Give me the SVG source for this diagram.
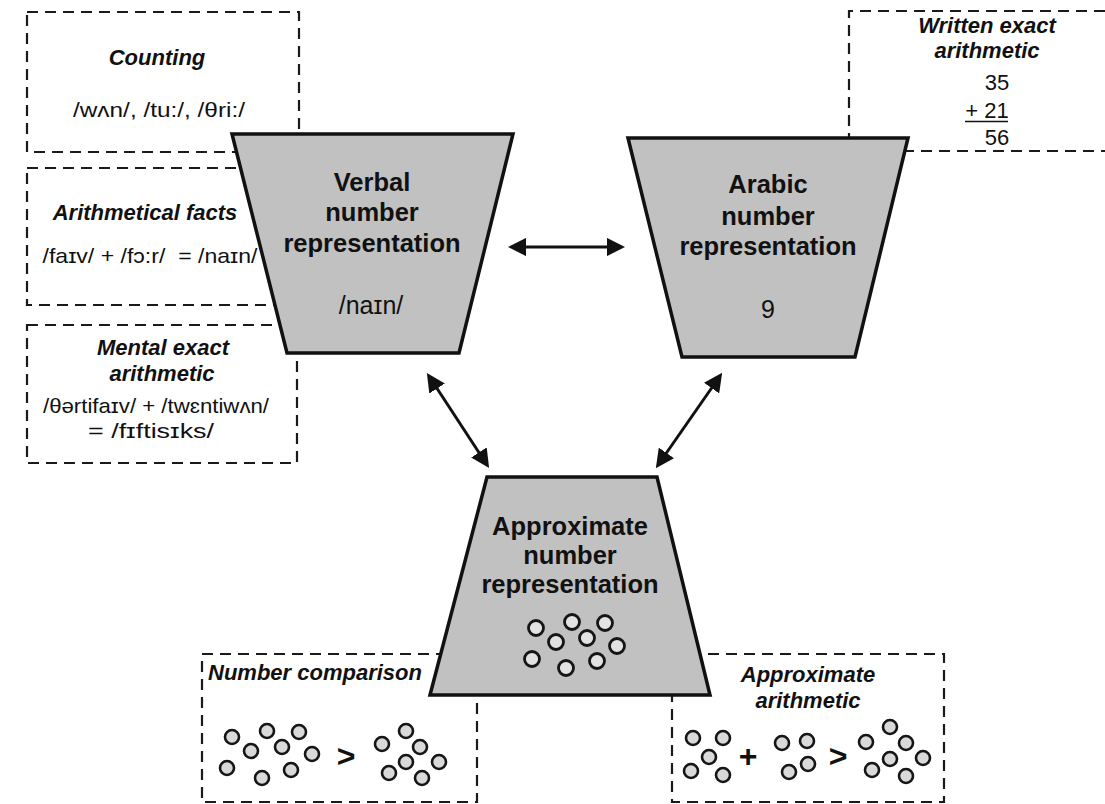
<svg xmlns="http://www.w3.org/2000/svg" width="1105" height="804" viewBox="0 0 1105 804">
<style>
.box{fill:none;stroke:#1a1a1a;stroke-width:2.2;stroke-dasharray:11 7}
.trap{fill:#c1c1c1;stroke:#111;stroke-width:3.5;stroke-linejoin:miter}
.ttl{font-family:"Liberation Sans",Arial,sans-serif;font-weight:bold;font-style:italic;font-size:22px;fill:#111;text-anchor:middle}
.txt{font-family:"Liberation Sans",Arial,sans-serif;font-size:21px;fill:#111;text-anchor:middle}
.lbl{font-family:"Liberation Sans",Arial,sans-serif;font-weight:bold;font-size:25.5px;fill:#111;text-anchor:middle}
.big{font-family:"Liberation Sans",Arial,sans-serif;font-size:25px;fill:#111;text-anchor:middle}
.sym{font-family:"Liberation Sans",Arial,sans-serif;font-weight:bold;font-size:32px;fill:#111;text-anchor:middle}
.dot{fill:#d9d9d9;stroke:#151515;stroke-width:2.6}
.dot2{fill:#e2e2e2;stroke:#151515;stroke-width:2.8}
.arr{stroke:#111;stroke-width:3;fill:none;marker-start:url(#ah);marker-end:url(#ah)}
</style>
<defs>
<marker id="ah" viewBox="0 0 10 10" refX="4" refY="5" markerWidth="6.2" markerHeight="6.2" orient="auto-start-reverse">
<path d="M0,0 L10,5 L0,10 z" fill="#111"/>
</marker>
</defs>

<g id="box-counting">
<rect class="box" x="27" y="12" width="272" height="140"/>
<text class="ttl" x="157" y="65">Counting</text>
<text class="txt" x="159" y="117" textLength="172" lengthAdjust="spacingAndGlyphs">/wʌn/, /tu:/, /θri:/</text>
</g>
<g id="box-facts">
<rect class="box" x="27" y="168" width="258" height="137"/>
<text class="ttl" x="145" y="220">Arithmetical facts</text>
<text class="txt" x="150" y="263" textLength="215" lengthAdjust="spacingAndGlyphs">/faɪv/ + /fɔ:r/ &#160;= /naɪn/</text>
</g>
<g id="box-mental">
<rect class="box" x="27" y="325" width="270" height="138"/>
<text class="ttl" x="163" y="355">Mental exact</text>
<text class="ttl" x="162" y="381">arithmetic</text>
<text class="txt" x="156" y="413" textLength="226" lengthAdjust="spacingAndGlyphs">/θərtifaɪv/ + /twɛntiwʌn/</text>
<text class="txt" x="151" y="438" textLength="126" lengthAdjust="spacingAndGlyphs">= /fɪftisɪks/</text>
</g>
<g id="box-written">
<path class="box" d="M1105,11 H849 V151 H1105"/>
<text class="ttl" x="987" y="33">Written exact</text>
<text class="ttl" x="987" y="58">arithmetic</text>
<text class="txt" x="997" y="90" style="font-size:22px">35</text>
<text class="txt" x="987" y="118" style="font-size:22px">+ 21</text>
<line x1="965" y1="121.5" x2="1008" y2="121.5" stroke="#111" stroke-width="1.6"/>
<text class="txt" x="997" y="145" style="font-size:22px">56</text>
</g>
<g id="box-comparison">
<rect class="box" x="202" y="654" width="275" height="148"/>
<text class="ttl" x="208" y="680" style="text-anchor:start">Number comparison</text>
<circle class="dot" cx="232" cy="737" r="7"/>
<circle class="dot" cx="251" cy="751" r="7"/>
<circle class="dot" cx="267" cy="731" r="7"/>
<circle class="dot" cx="282" cy="747" r="7"/>
<circle class="dot" cx="299" cy="732" r="7"/>
<circle class="dot" cx="312" cy="754" r="7"/>
<circle class="dot" cx="227" cy="768" r="7"/>
<circle class="dot" cx="262" cy="778" r="7"/>
<circle class="dot" cx="291" cy="770" r="7"/>
<text class="sym" x="346" y="767">&gt;</text>
<circle class="dot" cx="382" cy="744" r="7"/>
<circle class="dot" cx="406" cy="731" r="7"/>
<circle class="dot" cx="420" cy="747" r="7"/>
<circle class="dot" cx="406" cy="762" r="7"/>
<circle class="dot" cx="439" cy="762" r="7"/>
<circle class="dot" cx="389" cy="773" r="7"/>
<circle class="dot" cx="422" cy="778" r="7"/>
</g>
<g id="box-approx-arith">
<rect class="box" x="672" y="654" width="272" height="148"/>
<text class="ttl" x="808" y="682">Approximate</text>
<text class="ttl" x="808" y="708">arithmetic</text>
<circle class="dot" cx="693" cy="738" r="7"/>
<circle class="dot" cx="723" cy="738" r="7"/>
<circle class="dot" cx="709" cy="757" r="7"/>
<circle class="dot" cx="691" cy="771" r="7"/>
<circle class="dot" cx="723" cy="775" r="7"/>
<text class="sym" x="748" y="767">+</text>
<circle class="dot" cx="782" cy="743" r="7"/>
<circle class="dot" cx="807" cy="741" r="7"/>
<circle class="dot" cx="808" cy="764" r="7"/>
<circle class="dot" cx="789" cy="772" r="7"/>
<text class="sym" x="838" y="767">&gt;</text>
<circle class="dot" cx="866" cy="742" r="7"/>
<circle class="dot" cx="890" cy="727" r="7"/>
<circle class="dot" cx="906" cy="743" r="7"/>
<circle class="dot" cx="890" cy="759" r="7"/>
<circle class="dot" cx="923" cy="758" r="7"/>
<circle class="dot" cx="872" cy="770" r="7"/>
<circle class="dot" cx="906" cy="776" r="7"/>
</g>

<g id="node-verbal">
<polygon class="trap" points="232,134 513,134 459,353 287,353"/>
<text class="lbl" x="372" y="191">Verbal</text>
<text class="lbl" x="372" y="221">number</text>
<text class="lbl" x="372" y="252">representation</text>
<text class="big" x="371" y="314">/naɪn/</text>
</g>
<g id="node-arabic">
<polygon class="trap" points="628,138 908,138 855,357 682,357"/>
<text class="lbl" x="768" y="193">Arabic</text>
<text class="lbl" x="768" y="225">number</text>
<text class="lbl" x="768" y="255">representation</text>
<text class="big" x="768" y="318">9</text>
</g>
<g id="node-approx">
<polygon class="trap" points="487,477 657,477 710,695 430,695"/>
<text class="lbl" x="570" y="535">Approximate</text>
<text class="lbl" x="570" y="564">number</text>
<text class="lbl" x="570" y="593">representation</text>
<circle class="dot2" cx="536" cy="628" r="7.5"/>
<circle class="dot2" cx="556" cy="642" r="7.5"/>
<circle class="dot2" cx="572" cy="622" r="7.5"/>
<circle class="dot2" cx="587" cy="638" r="7.5"/>
<circle class="dot2" cx="605" cy="623" r="7.5"/>
<circle class="dot2" cx="617" cy="646" r="7.5"/>
<circle class="dot2" cx="532" cy="659" r="7.5"/>
<circle class="dot2" cx="566" cy="668" r="7.5"/>
<circle class="dot2" cx="597" cy="661" r="7.5"/>
</g>

<g id="connectors">
<line class="arr" x1="519" y1="247" x2="614" y2="247"/>
<line class="arr" x1="433" y1="382.3" x2="483" y2="458.7"/>
<line class="arr" x1="715.8" y1="382" x2="662.2" y2="459"/>
</g>
</svg>
